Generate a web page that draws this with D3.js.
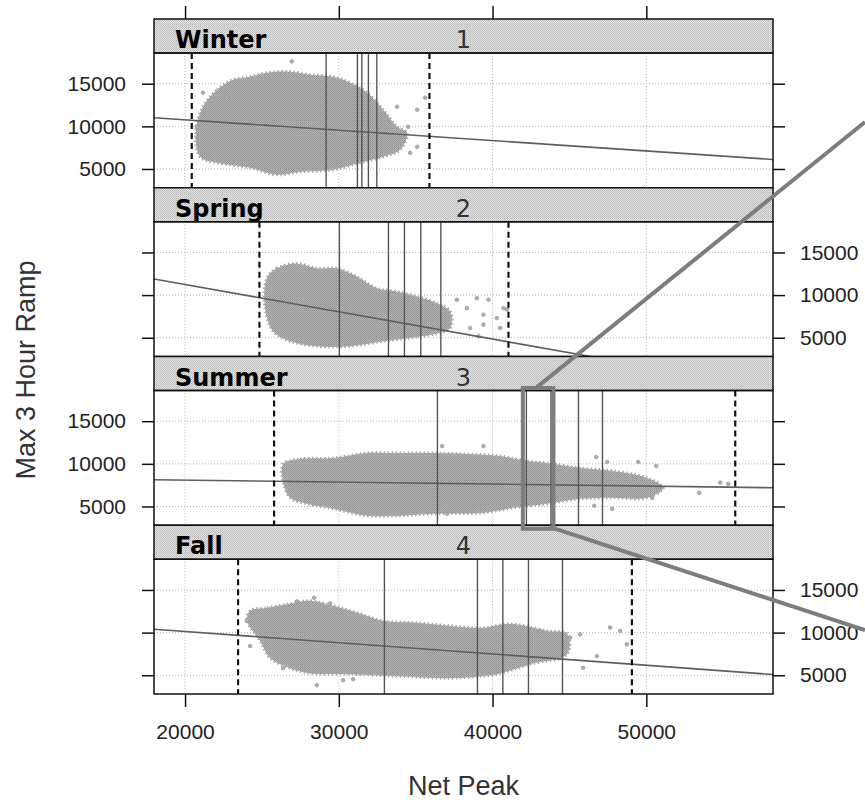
<!DOCTYPE html>
<html>
<head>
<meta charset="utf-8">
<script src="https://d3js.org/d3.v7.min.js"></script>
<style>
    body { margin: 0; background: #fff; }
    svg { display: block; }
</style>
</head>
<body>
<script>
// Conditioned scatter plot: Max 3 Hour Ramp against Net Peak, by season

// ---- data ----
var seasons = ["Winter", "Spring", "Summer", "Fall"];
var panelNumbers = ["1", "2", "3", "4"];
var xTicks = [20000, 30000, 40000, 50000];
var yTicks = [5000, 10000, 15000];

// outline of the dense point cloud in each panel [net peak, ramp]
var cloudWinter = [[21171, 12300], [22082, 14296], [23123, 15470],
    [24229, 15822], [25335, 16291], [26831, 16409], [28133, 16057],
    [29629, 15822], [30735, 15117], [31841, 13943], [32882, 11948],
    [33793, 9952], [34443, 9247], [33988, 7252], [32882, 6430],
    [31386, 5725], [29629, 4904], [27482, 4669], [25986, 4317],
    [24229, 5138], [22082, 5725], [20976, 6430], [20700, 9500]];
var cloudSpring = [[25316, 11968], [25966, 13134], [27267, 13717],
    [28568, 13134], [29870, 13134], [31171, 12167], [32472, 10802],
    [33773, 10418], [35075, 9835], [36376, 9053], [37241, 8086],
    [37241, 6138], [36135, 5404], [34639, 4972], [32882, 4588],
    [30735, 4005], [28568, 4005], [26831, 4588], [25725, 5754],
    [25205, 8470]];
var cloudSummer = [[26376, 9982], [27482, 10565], [29629, 10682],
    [31841, 11266], [33988, 11266], [36135, 11266], [38347, 11149],
    [40494, 10916], [42251, 10332], [43552, 10099], [45699, 9515],
    [47846, 9165], [50058, 8348], [51099, 7181], [50058, 6014],
    [47846, 6014], [45699, 5897], [43552, 5314], [41340, 4847],
    [39407, 4264], [36135, 4147], [33988, 3914], [31841, 3914],
    [29629, 4730], [27937, 5314], [26831, 6014], [26376, 8000]];
var cloudFall = [[24229, 12557], [25335, 12911], [26831, 13383],
    [28133, 13737], [29629, 13147], [31191, 12321], [32882, 11377],
    [35094, 11141], [37241, 10787], [39388, 10551], [41145, 11023],
    [43552, 10197], [44853, 9843], [44853, 7483], [42446, 6303],
    [40299, 5123], [39193, 4887], [37241, 4651], [33988, 4887],
    [30735, 5123], [28133, 5241], [26831, 5831], [25530, 7011],
    [24880, 9017], [24034, 11377]];

// scattered points outside the clouds
var strayWinter = [[26942, 17620], [33793, 12300], [35094, 11948],
    [35615, 13356], [34508, 9952], [35094, 7604], [34638, 6900],
    [21171, 13943], [21757, 13122], [22733, 13474], [20781, 9952]];
var straySpring = [[37677, 9450], [38328, 8470], [38978, 9636],
    [39407, 7701], [39733, 9450], [40279, 7304], [40709, 8470],
    [38542, 6138], [39407, 6535], [40494, 6138], [39082, 5171],
    [40930, 8320]];
var straySummer = [[54807, 7800], [55327, 7648], [53441, 6598],
    [50644, 9749], [49473, 10215], [46740, 10799], [47456, 10215],
    [47781, 4730], [46610, 5080], [50383, 6014], [39407, 12083],
    [36720, 12083], [37046, 4147]];
var strayFall = [[28393, 14091], [27267, 13655], [29434, 13419],
    [28568, 3825], [30280, 4415], [30930, 4533], [24012, 11377],
    [24229, 8427], [26376, 5831], [47651, 10587], [48302, 10197],
    [48738, 8628], [45894, 5867], [46785, 7247], [45048, 9407],
    [45699, 9808], [43097, 10197]];

// fitted line: two end points [net peak, ramp]
var fitWinter = [[17980, 11000], [58240, 6120]];
var fitSpring = [[17980, 11890], [46380, 2800]];
var fitSummer = [[17980, 8140], [58240, 7200]];
var fitFall = [[17980, 10398], [58240, 5088]];

// dashed limits and solid reference lines (net peak)
var dashedWinter = [20436, 35894];
var dashedSpring = [24836, 41034];
var dashedSummer = [25790, 55784];
var dashedFall = [23448, 49063];
var solidWinter = [29174, 31210, 31497, 31926, 32472];
var solidSpring = [30039, 33228, 34269, 35332, 36636];
var solidSummer = [36415, 42200, 43800, 45589, 47150];
var solidFall = [32967, 39017, 40670, 42335, 44548];

// highlight box in panel 3 (net peak range) and the two call-out lines
var zoomRange = [41970, 43960];
var calloutTop = [[42891, 19000], [64222, 10510]];    // panel 3 -> panel 1
var calloutBottom = [[43700, 2600], [64222, 10304]];  // panel 3 -> panel 4

var panels = seasons.map(function(s, i) {
    return {
        name: s,
        number: panelNumbers[i],
        cloud: [cloudWinter, cloudSpring, cloudSummer, cloudFall][i],
        stray: [strayWinter, straySpring, straySummer, strayFall][i],
        fit: [fitWinter, fitSpring, fitSummer, fitFall][i],
        dashed: [dashedWinter, dashedSpring, dashedSummer, dashedFall][i],
        solid: [solidWinter, solidSpring, solidSummer, solidFall][i]
    };
});

// ---- layout ----
var width = 865, height = 804;
var plotLeft = 154, plotRight = 773, plotTop = 19;
var stripH = 34, panelH = 134.75;
var tickLen = 12;
var numFont = "'Liberation Sans', Arial, sans-serif";

var svg = d3.select("body").append("svg")
    .attr("width", width)
    .attr("height", height);

var defs = svg.append("defs");

// dithered grey for the strips
var pat = defs.append("pattern")
    .attr("id", "stripFill")
    .attr("width", 2).attr("height", 2)
    .attr("patternUnits", "userSpaceOnUse");
pat.append("rect").attr("width", 2).attr("height", 2).attr("fill", "#e3e3e3");
pat.append("rect").attr("width", 1).attr("height", 1).attr("fill", "#b8b8b8");
pat.append("rect").attr("x", 1).attr("y", 1)
    .attr("width", 1).attr("height", 1).attr("fill", "#c4c4c4");

// dithered grey for the point clouds
var cpat = defs.append("pattern")
    .attr("id", "cloudFill")
    .attr("width", 2).attr("height", 2)
    .attr("patternUnits", "userSpaceOnUse");
cpat.append("rect").attr("width", 2).attr("height", 2).attr("fill", "#b4b4b4");
cpat.append("rect").attr("width", 1).attr("height", 1).attr("fill", "#8f8f8f");
cpat.append("rect").attr("x", 1).attr("y", 1)
    .attr("width", 1).attr("height", 1).attr("fill", "#9c9c9c");

var xScale = d3.scaleLinear().domain([17980, 58240]).range([plotLeft, plotRight]);

function panelTop(i) { return plotTop + i * (stripH + panelH) + stripH; }

function yScaleFor(i) {
    return d3.scaleLinear().domain([2800, 18600])
        .range([panelTop(i) + panelH, panelTop(i)]);
}

defs.selectAll("clipPath")
    .data(panels)
    .enter()
    .append("clipPath")
    .attr("id", function(d, i) { return "clip" + i; })
    .append("rect")
    .attr("x", plotLeft)
    .attr("y", function(d, i) { return panelTop(i); })
    .attr("width", plotRight - plotLeft)
    .attr("height", panelH);

panels.forEach(function(p, i) {
    var yScale = yScaleFor(i);
    var top = panelTop(i), bottom = top + panelH;
    var g = svg.append("g");
    var inner = g.append("g").attr("clip-path", "url(#clip" + i + ")");

    // dotted reference grid
    inner.selectAll(".gx").data(xTicks).enter().append("line")
        .attr("x1", function(d) { return xScale(d); })
        .attr("x2", function(d) { return xScale(d); })
        .attr("y1", top).attr("y2", bottom)
        .attr("stroke", "#b5b5b5").attr("stroke-width", 1)
        .attr("stroke-dasharray", "1,2");
    inner.selectAll(".gy").data(yTicks).enter().append("line")
        .attr("x1", plotLeft).attr("x2", plotRight)
        .attr("y1", function(d) { return yScale(d); })
        .attr("y2", function(d) { return yScale(d); })
        .attr("stroke", "#b5b5b5").attr("stroke-width", 1)
        .attr("stroke-dasharray", "1,2");

    // point cloud
    var cloudLine = d3.line()
        .x(function(d) { return xScale(d[0]); })
        .y(function(d) { return yScale(d[1]); })
        .curve(d3.curveCatmullRomClosed.alpha(0.5));
    inner.append("path")
        .attr("d", cloudLine(p.cloud))
        .attr("fill", "url(#cloudFill)")
        .attr("stroke", "#a8a8a8")
        .attr("stroke-width", 3)
        .attr("stroke-dasharray", "1.5,2.5");

    inner.selectAll(".stray").data(p.stray).enter().append("circle")
        .attr("cx", function(d) { return xScale(d[0]); })
        .attr("cy", function(d) { return yScale(d[1]); })
        .attr("r", 1.8)
        .attr("fill", "#b0b0b0")
        .attr("stroke", "#999")
        .attr("stroke-width", 0.8);

    // fitted line
    inner.append("path")
        .attr("d", d3.line()
            .x(function(d) { return xScale(d[0]); })
            .y(function(d) { return yScale(d[1]); })(p.fit))
        .attr("fill", "none")
        .attr("stroke", "#5e5e5e")
        .attr("stroke-width", 1.6);

    // solid reference lines
    inner.selectAll(".solid").data(p.solid).enter().append("line")
        .attr("x1", function(d) { return xScale(d); })
        .attr("x2", function(d) { return xScale(d); })
        .attr("y1", top).attr("y2", bottom)
        .attr("stroke", "#555").attr("stroke-width", 1.4);

    // dashed limits
    inner.selectAll(".dashed").data(p.dashed).enter().append("line")
        .attr("x1", function(d) { return xScale(d); })
        .attr("x2", function(d) { return xScale(d); })
        .attr("y1", top).attr("y2", bottom)
        .attr("stroke", "#111").attr("stroke-width", 2.2)
        .attr("stroke-dasharray", "6,4");

    // strip
    g.append("rect")
        .attr("x", plotLeft).attr("y", top - stripH)
        .attr("width", plotRight - plotLeft).attr("height", stripH)
        .attr("fill", "url(#stripFill)")
        .attr("stroke", "#111").attr("stroke-width", 1.5);
    g.append("text")
        .attr("x", plotLeft + 21).attr("y", top - 5)
        .attr("font-family", "'DejaVu Sans', Verdana, sans-serif")
        .attr("font-weight", "bold")
        .attr("font-size", "24px")
        .attr("fill", "#000")
        .text(p.name);
    g.append("text")
        .attr("x", (plotLeft + plotRight) / 2).attr("y", top - 5)
        .attr("text-anchor", "middle")
        .attr("font-family", "'DejaVu Sans', Verdana, sans-serif")
        .attr("font-size", "24px")
        .attr("fill", "#333")
        .text(p.number);

    // panel border
    g.append("rect")
        .attr("x", plotLeft).attr("y", top)
        .attr("width", plotRight - plotLeft).attr("height", panelH)
        .attr("fill", "none")
        .attr("stroke", "#111").attr("stroke-width", 1.5);

    // y axes alternate sides
    var labelLeft = (i % 2 === 0);
    var leftAxis = d3.axisLeft(yScale).tickValues(yTicks)
        .tickSize(tickLen).tickPadding(16).tickFormat(d3.format("d"));
    var rightAxis = d3.axisRight(yScale).tickValues(yTicks)
        .tickSize(tickLen).tickPadding(15).tickFormat(d3.format("d"));
    if (labelLeft) rightAxis.tickFormat("");
    else leftAxis.tickFormat("");

    [[leftAxis, plotLeft], [rightAxis, plotRight]].forEach(function(a) {
        var ag = g.append("g")
            .attr("transform", "translate(" + a[1] + ",0)")
            .call(a[0]);
        ag.select(".domain").remove();
        ag.selectAll("line").attr("stroke", "#111").attr("stroke-width", 1.5);
        ag.selectAll("text")
            .attr("font-family", numFont)
            .attr("font-size", "21px")
            .attr("fill", "#222");
    });
});

// x axes: ticks on top, labelled ticks at the bottom
var xTopAxis = d3.axisTop(xScale).tickValues(xTicks)
    .tickSize(13).tickFormat("");
var xBottomAxis = d3.axisBottom(xScale).tickValues(xTicks)
    .tickSize(13).tickPadding(17).tickFormat(d3.format("d"));
var lastBottom = panelTop(3) + panelH;

[[xTopAxis, plotTop], [xBottomAxis, lastBottom]].forEach(function(a) {
    var ag = svg.append("g")
        .attr("transform", "translate(0," + a[1] + ")")
        .call(a[0]);
    ag.select(".domain").remove();
    ag.selectAll("line").attr("stroke", "#111").attr("stroke-width", 1.5);
    ag.selectAll("text")
        .attr("font-family", numFont)
        .attr("font-size", "21px")
        .attr("fill", "#222");
});

// highlight box on the summer panel with call-out lines
var y3 = yScaleFor(2), y1 = yScaleFor(0), y4 = yScaleFor(3);
svg.append("rect")
    .attr("x", xScale(zoomRange[0]))
    .attr("y", panelTop(2) - 2.5)
    .attr("width", xScale(zoomRange[1]) - xScale(zoomRange[0]))
    .attr("height", panelH + 6)
    .attr("fill", "none")
    .attr("stroke", "#7d7d7d")
    .attr("stroke-width", 4);
svg.append("line")
    .attr("x1", xScale(calloutTop[0][0])).attr("y1", y3(calloutTop[0][1]))
    .attr("x2", xScale(calloutTop[1][0])).attr("y2", y1(calloutTop[1][1]))
    .attr("stroke", "#7d7d7d").attr("stroke-width", 4);
svg.append("line")
    .attr("x1", xScale(calloutBottom[0][0])).attr("y1", y3(calloutBottom[0][1]))
    .attr("x2", xScale(calloutBottom[1][0])).attr("y2", y4(calloutBottom[1][1]))
    .attr("stroke", "#7d7d7d").attr("stroke-width", 4);

// axis titles
svg.append("text")
    .attr("x", (plotLeft + plotRight) / 2)
    .attr("y", 795)
    .attr("text-anchor", "middle")
    .attr("font-family", numFont)
    .attr("font-size", "27px")
    .attr("fill", "#333")
    .text("Net Peak");

svg.append("text")
    .attr("transform", "translate(35,370) rotate(-90)")
    .attr("text-anchor", "middle")
    .attr("font-family", numFont)
    .attr("font-size", "27px")
    .attr("fill", "#333")
    .text("Max 3 Hour Ramp");
</script>
</body>
</html>
